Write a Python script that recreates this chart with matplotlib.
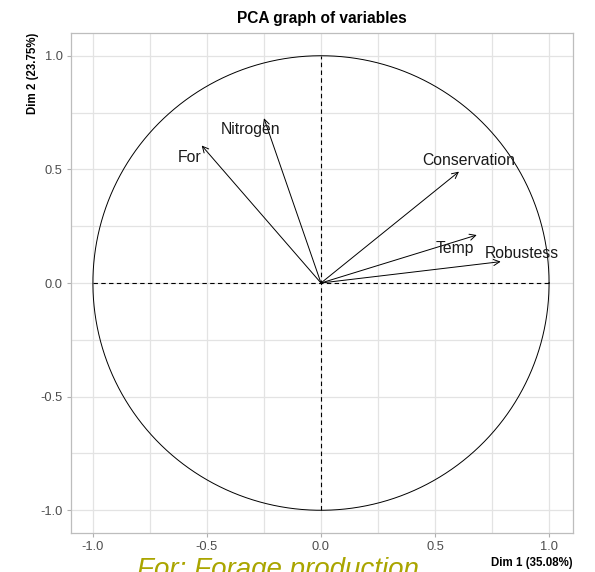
import numpy as np
import matplotlib
matplotlib.use("Agg")
import matplotlib.pyplot as plt

plt.rcParams['font.family'] = ['Liberation Sans', 'DejaVu Sans']

# variable coordinates on Dim 1 / Dim 2
variables = ["For", "Nitrogen", "Conservation", "Temp", "Robustess"]
dim1 = [-0.523, -0.250, 0.605, 0.683, 0.788]
dim2 = [0.605, 0.725, 0.490, 0.211, 0.094]
# label positions (as placed by the repel step)
label_x = [-0.575, -0.307, 0.649, 0.588, 0.882]
label_y = [0.550, 0.674, 0.537, 0.154, 0.132]

ticks = [-1.0, -0.5, 0.0, 0.5, 1.0]
tick_labels = ["-1.0", "-0.5", "0.0", "0.5", "1.0"]

fig = plt.figure(figsize=(5.95, 5.72), dpi=100)
ax = fig.add_axes([71/595, 1 - 533/572, 502/595, 500/572])

ax.set_xlim(-1.096, 1.105)
ax.set_ylim(-1.10, 1.10)

ax.set_xticks(ticks)
ax.set_xticklabels(tick_labels)
ax.set_yticks(ticks)
ax.set_yticklabels(tick_labels)
ax.set_xticks([-0.75, -0.25, 0.25, 0.75], minor=True)
ax.set_yticks([-0.75, -0.25, 0.25, 0.75], minor=True)
ax.grid(True, which='major', color='#e3e3e3', lw=0.9)
ax.grid(True, which='minor', color='#e3e3e3', lw=0.9)
ax.set_axisbelow(True)
ax.tick_params(which='major', length=3, color='#b0b0b0', labelsize=9.3,
               labelcolor='#4d4d4d', pad=3)
ax.tick_params(which='minor', length=0)
for s in ax.spines.values():
    s.set_color('#bdbdbd')
    s.set_linewidth(0.9)

# correlation circle
t = np.linspace(0, 2 * np.pi, 400)
ax.plot(np.cos(t), np.sin(t), color='black', lw=0.7)
ax.plot([-1, 1], [0, 0], color='black', lw=0.8, ls=(0, (4, 3)))
ax.plot([0, 0], [-1, 1], color='black', lw=0.8, ls=(0, (4, 3)))

for name, x, y, lx, ly in zip(variables, dim1, dim2, label_x, label_y):
    ax.annotate("", xy=(x, y), xytext=(0, 0),
                arrowprops=dict(arrowstyle='->', lw=0.7, color='black',
                                shrinkA=0, shrinkB=0, mutation_scale=11))
    ax.text(lx, ly, name, ha='center', va='center', fontsize=11.3, color='#1a1a1a')

fig.text(322/595, 1 - 18/572, "PCA graph of variables", ha='center', va='center',
         fontsize=11.2, fontweight='bold')
fig.text(573/595, 1 - 563/572, "Dim 1 (35.08%)", ha='right', va='center',
         fontsize=8.3, fontweight='bold')
fig.text(33/595, 1 - 33/572, "Dim 2 (23.75%)", ha='center', va='top',
         rotation=90, fontsize=8.3, fontweight='bold')

fig.text(137/595, 1 - 577/572, "For: Forage production", ha='left', va='baseline',
         fontsize=20, style='italic', color='#aaa500')

fig.savefig("out.png", dpi=100)
